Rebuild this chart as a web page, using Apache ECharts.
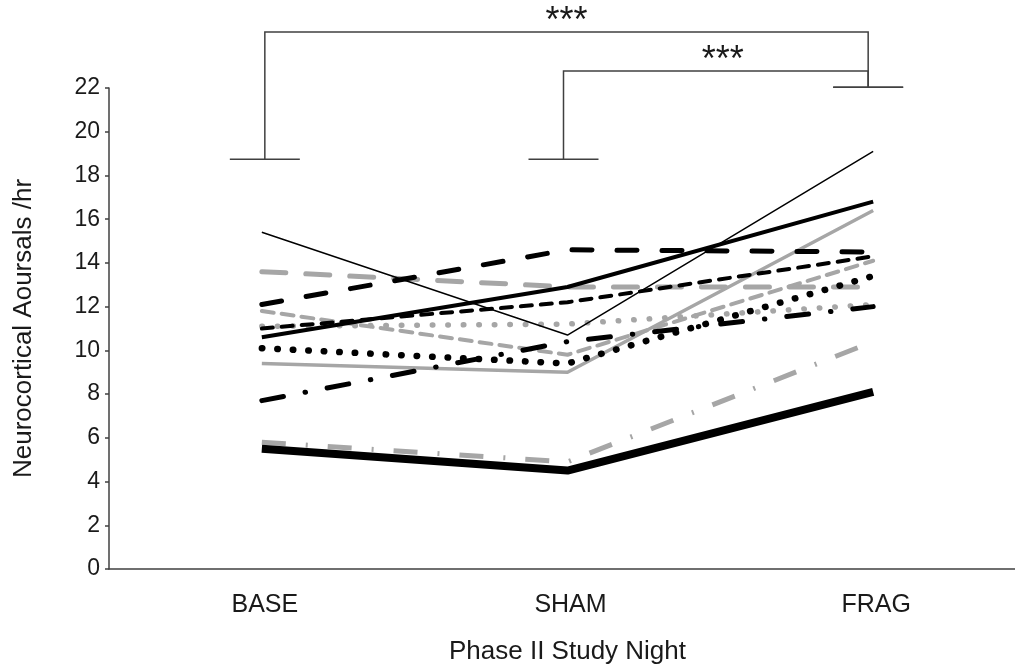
<!DOCTYPE html>
<html>
<head>
<meta charset="utf-8">
<script src="https://cdn.jsdelivr.net/npm/echarts@6/dist/echarts.min.js"></script>
<style>
html,body{margin:0;padding:0;background:#fff;overflow:hidden;}
#chart{width:1026px;height:672px;}
</style>
</head>
<body>
<div id="chart"></div>
<script>
// ---- data ----
const categories = ['BASE', 'SHAM', 'FRAG'];
const yTicks = [0, 22, 2]; // min, max, interval
const thinBlackSolid   = [15.4, 10.7, 19.1];
const blackSolid       = [10.6, 12.9, 16.8];
const graySolid        = [9.4, 9.0, 16.4];
const thickBlackSolid  = [5.5, 4.5, 8.1];
const grayDashDot      = [5.8, 4.9, 10.4];
const blackLongDash    = [12.1, 14.6, 14.5];
const grayLongDash     = [13.6, 12.9, 12.9];
const blackShortDash   = [11.0, 12.2, 14.3];
const grayShortDash    = [11.8, 9.8, 14.1];
const grayRoundDot     = [11.1, 11.2, 12.1];
const blackRoundDot    = [10.1, 9.4, 13.4];
const blackDashDot     = [7.7, 10.4, 12.0];
// significance brackets: [fromCategory, toCategory, barValue, fromCapValue, toCapValue, label]
const brackets = [
  ['BASE', 'FRAG', 24.56, 18.74, 22.04, '***'],
  ['SHAM', 'FRAG', 22.78, 18.74, 22.04, '***']
];

const BLACK = '#000000';
const GRAY = '#a6a6a6';

function mk(name, data, color, width, type, cap) {
  return {
    name: name, type: 'line', data: data, symbol: 'none', smooth: false,
    lineStyle: { color: color, width: width, type: type, cap: cap || 'butt', join: 'round' },
    emphasis: { disabled: true }, silent: true
  };
}

const chart = echarts.init(document.getElementById('chart'));
const option = {
  animation: false,
  backgroundColor: '#ffffff',
  grid: { left: 109, right: 0, top: 88, bottom: 103, containLabel: false },
  xAxis: {
    type: 'category', data: categories, boundaryGap: true,
    name: 'Phase II Study Night', nameLocation: 'middle', nameGap: 70,
    nameTextStyle: { fontFamily: 'Liberation Sans', fontSize: 26, color: '#1a1a1a' },
    axisLine: { show: true, lineStyle: { color: '#404040', width: 1.5 } },
    axisTick: { show: false },
    axisLabel: { fontFamily: 'Liberation Sans', fontSize: 25, color: '#1a1a1a', margin: 24, padding: [0, 0, 0, 6] },
    splitLine: { show: false }
  },
  yAxis: {
    type: 'value', min: yTicks[0], max: yTicks[1], interval: yTicks[2],
    name: 'Neurocortical Aoursals /hr', nameLocation: 'middle', nameGap: 72, nameRotate: 90,
    nameTextStyle: { fontFamily: 'Liberation Sans', fontSize: 26, color: '#1a1a1a' },
    axisLine: { show: true, lineStyle: { color: '#404040', width: 1.5 } },
    axisTick: { show: true, inside: false, length: 4, lineStyle: { color: '#404040', width: 1.5 } },
    axisLabel: { fontFamily: 'Liberation Sans', fontSize: 23, color: '#1a1a1a', margin: 9 },
    splitLine: { show: false }
  },
  series: [
    mk('grayDashDot', grayDashDot, GRAY, 5, [24, 20, 2, 20], 'butt'),
    mk('grayLongDash', grayLongDash, GRAY, 5, [24, 20], 'round'),
    mk('grayShortDash', grayShortDash, GRAY, 4, [12, 8], 'round'),
    mk('grayRoundDot', grayRoundDot, GRAY, 5.5, [0.5, 15], 'round'),
    mk('graySolid', graySolid, GRAY, 3.5, 'solid'),
    mk('blackLongDash', blackLongDash, BLACK, 5, [20, 25], 'round'),
    mk('blackShortDash', blackShortDash, BLACK, 4, [11, 9], 'round'),
    mk('blackRoundDot', blackRoundDot, BLACK, 6.5, [0.5, 15], 'round'),
    mk('blackDashDot', blackDashDot, BLACK, 5, [22, 22, 0.5, 22], 'round'),
    mk('thinBlackSolid', thinBlackSolid, BLACK, 1.5, 'solid'),
    mk('blackSolid', blackSolid, BLACK, 4, 'solid'),
    mk('thickBlackSolid', thickBlackSolid, BLACK, 8, 'solid')
  ]
};
chart.setOption(option);

// significance brackets, positioned through the chart's own scales
const graphics = [];
const capHalf = 35;
const lineStyle = { stroke: '#404040', lineWidth: 1.5, fill: null };
brackets.forEach(function (b, i) {
  const xa = chart.convertToPixel({ gridIndex: 0 }, [b[0], b[2]]);
  const xb = chart.convertToPixel({ gridIndex: 0 }, [b[1], b[2]]);
  const capA = chart.convertToPixel({ gridIndex: 0 }, [b[0], b[3]]);
  const capB = chart.convertToPixel({ gridIndex: 0 }, [b[1], b[4]]);
  const ax = xa[0] + (i === 0 ? 3 : -4);
  const bx = xb[0] - 5;
  graphics.push({ type: 'polyline', silent: true, shape: { points: [[ax, capA[1]], [ax, xa[1]], [bx, xb[1]], [bx, capB[1]]] }, style: lineStyle });
  graphics.push({ type: 'line', silent: true, shape: { x1: ax - capHalf, y1: capA[1], x2: ax + capHalf, y2: capA[1] }, style: lineStyle });
  graphics.push({ type: 'line', silent: true, shape: { x1: bx - capHalf, y1: capB[1], x2: bx + capHalf, y2: capB[1] }, style: lineStyle });
  graphics.push({ type: 'text', silent: true, x: (ax + bx) / 2 + (i === 0 ? 0 : 7), y: xa[1] + 8,
    style: { text: b[5], fontFamily: 'Liberation Sans', fontSize: 36, fill: '#1a1a1a', align: 'center', verticalAlign: 'bottom' } });
});
chart.setOption({ graphic: graphics });
</script>
</body>
</html>
